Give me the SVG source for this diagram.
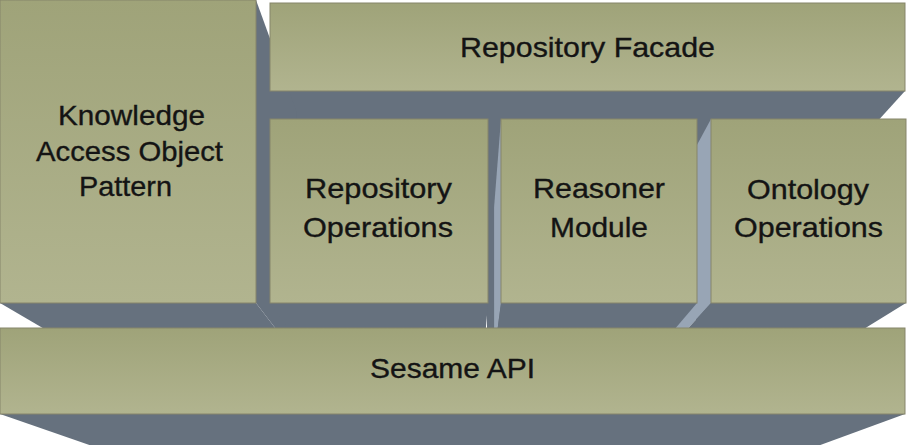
<svg xmlns="http://www.w3.org/2000/svg" width="909" height="445" viewBox="0 0 909 445">
  <defs>
    <linearGradient id="faceGrad" x1="0" y1="0" x2="0" y2="1">
      <stop offset="0" stop-color="#9fa379"/>
      <stop offset="1" stop-color="#b1b48f"/>
    </linearGradient>
  </defs>
  <style>
    .face { fill: url(#faceGrad); stroke: #86856a; stroke-width: 1; }
    .dark { fill: #66717e; }
    .light { fill: #98a5b5; }
    .label { font-family: "Liberation Sans", Arial, sans-serif; font-size: 28px; fill: #141414; stroke: #141414; stroke-width: 0.35; text-anchor: middle; }
  </style>
  <rect width="909" height="445" fill="#ffffff"/>

  <g id="extrusions">
    <polygon class="dark" points="270,91 905,91 820.1,184.4 307.6,184.4"/>
    <polygon class="dark" points="256,0 296.3,111 296.3,355.5 256,303"/>
    <polygon class="dark" points="0,303 256,303 296.3,355.5 89.7,355.5"/>
    <rect class="dark" x="487" y="91" width="15" height="237"/>
    <rect class="dark" x="696" y="91" width="16" height="237"/>
    <polygon class="light" points="501,119 494.1,207 494.1,355.5 501,303"/>
    <polygon class="light" points="711,119 663.5,207 663.5,355.5 711,303"/>
    <polygon class="dark" points="270,303 488,303 483.6,355.5 307.6,355.5"/>
    <polygon class="dark" points="501,303 697,303 652.2,355.5 494.1,355.5"/>
    <polygon class="dark" points="711,303 906,303 820.9,355.5 663.5,355.5"/>
    <polygon class="dark" points="0,414 905,414 820.1,445.1 89.7,445.1"/>
  </g>

  <g id="connectors"/>

  <g id="knowledge-access-object-pattern">
    <rect class="face" x="0" y="0" width="256" height="303"/>
    <text class="label" x="131.5" y="125" textLength="147" lengthAdjust="spacingAndGlyphs">Knowledge</text>
    <text class="label" x="129.5" y="161" textLength="187" lengthAdjust="spacingAndGlyphs">Access Object</text>
    <text class="label" x="125.5" y="196" textLength="93" lengthAdjust="spacingAndGlyphs">Pattern</text>
  </g>

  <g id="repository-facade">
    <rect class="face" x="270" y="3" width="635" height="88"/>
    <text class="label" x="587.5" y="57" textLength="255" lengthAdjust="spacingAndGlyphs">Repository Facade</text>
  </g>

  <g id="repository-operations">
    <rect class="face" x="270" y="119" width="218" height="184"/>
    <text class="label" x="378.5" y="198" textLength="147" lengthAdjust="spacingAndGlyphs">Repository</text>
    <text class="label" x="378" y="237" textLength="150" lengthAdjust="spacingAndGlyphs">Operations</text>
  </g>

  <g id="reasoner-module">
    <rect class="face" x="501" y="119" width="196" height="184"/>
    <text class="label" x="599" y="198" textLength="132" lengthAdjust="spacingAndGlyphs">Reasoner</text>
    <text class="label" x="599" y="237" textLength="98" lengthAdjust="spacingAndGlyphs">Module</text>
  </g>

  <g id="ontology-operations">
    <rect class="face" x="711" y="119" width="195" height="184"/>
    <text class="label" x="808" y="199" textLength="122" lengthAdjust="spacingAndGlyphs">Ontology</text>
    <text class="label" x="808.5" y="237" textLength="149" lengthAdjust="spacingAndGlyphs">Operations</text>
  </g>

  <g id="sesame-api">
    <rect class="face" x="0" y="328" width="905" height="86"/>
    <text class="label" x="452.5" y="378" textLength="165" lengthAdjust="spacingAndGlyphs">Sesame API</text>
  </g>
</svg>
